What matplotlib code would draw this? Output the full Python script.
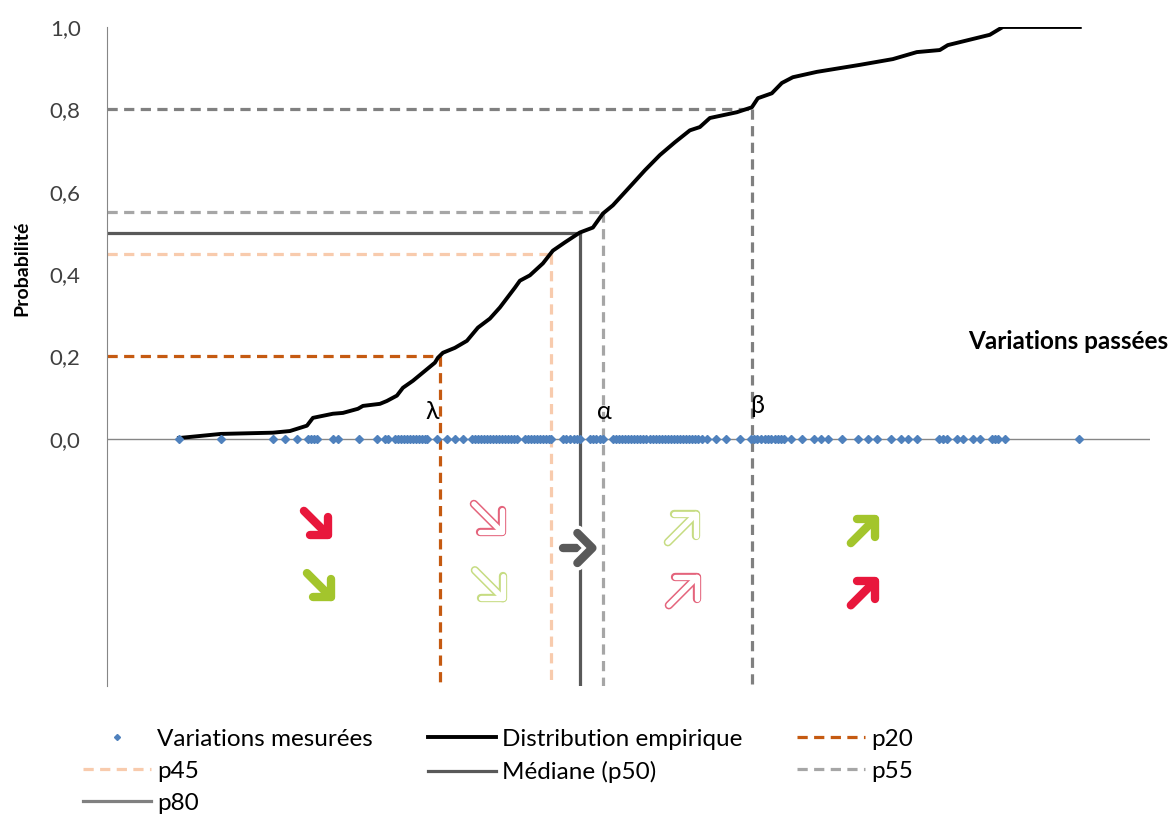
import matplotlib.pyplot as plt
from matplotlib import transforms
from matplotlib.lines import Line2D
import matplotlib.patheffects as pe

plt.rcParams['font.family'] = ['Lato', 'DejaVu Sans']

# variations mesurées (axe horizontal sans graduation, échelle arbitraire)
variations = [7.2, 11.4, 16.6, 17.8, 19.0, 20.1, 20.4, 20.7, 21.0, 22.6, 23.1, 25.2,
              27.0, 27.8, 28.1, 28.8, 29.1, 29.4, 29.7, 30.0, 30.3, 30.6, 30.9, 31.2,
              31.5, 31.8, 32.0, 33.0, 34.0, 34.8, 35.6, 36.5, 36.8, 37.1, 37.4, 37.7,
              38.0, 38.3, 38.6, 38.9, 39.2, 39.5, 39.8, 40.1, 40.4, 40.7, 41.0, 41.8,
              42.1, 42.4, 42.7, 43.0, 43.3, 43.6, 43.9, 44.2, 44.4, 45.6, 45.9, 46.3,
              46.7, 47.0, 47.3, 48.3, 48.6, 48.9, 49.3, 49.6, 50.6, 50.9, 51.2, 51.5,
              51.8, 52.1, 52.4, 52.7, 53.0, 53.3, 53.6, 53.9, 54.3, 54.6, 54.9, 55.2,
              55.5, 55.8, 56.1, 56.4, 56.7, 57.0, 57.3, 57.6, 57.9, 58.2, 58.5, 58.8,
              59.1, 59.5, 60.0, 60.9, 61.9, 63.3, 64.4, 64.7, 65.0, 65.4, 65.8, 66.1,
              66.4, 66.8, 67.1, 67.4, 67.7, 68.4, 69.5, 70.7, 71.4, 72.1, 73.5, 75.1,
              76.1, 77.0, 78.4, 79.4, 80.1, 81.0, 83.2, 83.6, 84.0, 85.0, 85.6, 86.6,
              87.3, 88.5, 88.8, 89.1, 89.8, 97.2]

# distribution empirique
cdf_x = [7.2, 11.4, 16.6, 18.3, 20.0, 20.6, 21.6, 22.6, 23.6, 25.1, 25.6, 27.3, 28.0,
         29.0, 29.6, 30.6, 31.8, 32.8, 33.1, 33.6, 34.8, 36.0, 37.1, 38.3, 39.3, 40.8,
         41.3, 42.3, 43.6, 44.6, 45.8, 47.3, 48.6, 49.6, 50.6, 52.6, 53.8, 55.3, 56.8,
         58.3, 59.3, 60.3, 63.0, 64.5, 65.1, 66.5, 67.5, 68.6, 71.0, 75.3, 78.6, 81.0,
         83.3, 84.1, 88.3, 89.6, 97.3]
cdf_y = [0.002, 0.012, 0.015, 0.019, 0.032, 0.051, 0.056, 0.061, 0.063, 0.073, 0.080,
         0.085, 0.092, 0.105, 0.124, 0.141, 0.165, 0.185, 0.197, 0.209, 0.221, 0.238,
         0.270, 0.292, 0.319, 0.367, 0.384, 0.397, 0.426, 0.457, 0.477, 0.501, 0.513,
         0.547, 0.567, 0.620, 0.652, 0.689, 0.720, 0.749, 0.757, 0.779, 0.793, 0.805,
         0.827, 0.839, 0.864, 0.878, 0.891, 0.908, 0.922, 0.939, 0.944, 0.956, 0.981,
         1.0, 1.0]

# percentiles
pct_names = ['p20', 'p45', 'Médiane (p50)', 'p55', 'p80']
pct_prob = [0.2, 0.45, 0.5, 0.55, 0.8]
pct_x = [33.3, 44.4, 47.3, 49.6, 64.5]
pct_colors = ['#C55A11', '#F8CBAD', '#595959', '#A6A6A6', '#808080']
pct_styles = ['--', '--', '-', '--', '--']

yticks = [0, 0.2, 0.4, 0.6, 0.8, 1.0]
ytick_labels = ['0,0', '0,2', '0,4', '0,6', '0,8', '1,0']

RED = '#E8173C'
GREEN = '#A3C52C'
RED_LIGHT = '#E4647C'
GREEN_LIGHT = '#C6DC82'


def arrow(ax, cx, cy, d, color, hollow=False, s=0.12, h=0.18, lw=6, gap=False):
    # flèche dessinée en pouces autour de (cx, cy) en coordonnées données
    tr = ax.figure.dpi_scale_trans + transforms.ScaledTranslation(cx, cy, ax.transData)
    dx, dy = d
    if dy == 0:
        tip = (s, 0)
        legs = [(s - h, h), (s - h, -h)]
    else:
        tip = (s * dx, s * dy)
        legs = [(s * dx - h * dx, s * dy), (s * dx, s * dy - h * dy)]
    segs = [([-tip[0], tip[0]], [-tip[1], tip[1]]),
            ([legs[0][0], tip[0], legs[1][0]], [legs[0][1], tip[1], legs[1][1]])]
    for xs, ys in segs:
        ln, = ax.plot(xs, ys, color=color, lw=lw, transform=tr, zorder=6,
                      solid_capstyle='round', solid_joinstyle='round', clip_on=False)
        if gap:
            ln.set_path_effects([pe.Stroke(linewidth=lw + 5, foreground='white'), pe.Normal()])
    if hollow:
        for xs, ys in segs:
            ax.plot(xs, ys, color='white', lw=lw - 2.2, transform=tr, zorder=7,
                    solid_capstyle='round', solid_joinstyle='round', clip_on=False)


fig = plt.figure(figsize=(11.73, 8.25), dpi=100)
ax = fig.add_axes([0.0912, 0.1685, 0.889, 0.7988])
ax.set_xlim(0, 104.3)
ax.set_ylim(-0.6, 1.0)

for s in ['top', 'right', 'bottom']:
    ax.spines[s].set_visible(False)
ax.spines['left'].set_color('#868686')
ax.axhline(0, color='#868686', lw=1, zorder=1)
ax.set_xticks([])
ax.set_yticks(yticks)
ax.set_yticklabels(ytick_labels, fontsize=16, color='#404040')
ax.tick_params(axis='y', length=0, pad=19)

handles = {}
for name, p, x, c, st in zip(pct_names, pct_prob, pct_x, pct_colors, pct_styles):
    kw = dict(color=c, lw=2.3, ls=st, zorder=2)
    if st == '--':
        kw['dashes'] = (3.2, 2.0)
    ln, = ax.plot([0, x], [p, p], **kw)
    ax.plot([x, x], [p, -0.6], **kw)
    handles[name] = ln

cdf_line, = ax.plot(cdf_x, cdf_y, color='black', lw=2.8, zorder=4,
                    solid_joinstyle='round')
pts, = ax.plot(variations, [0] * len(variations), ls='none', marker='D', ms=3.8,
               color='#4F81BD', zorder=5)

# lettres grecques
ax.text(32.5, 0.066, 'λ', fontsize=18, ha='center', va='center')
ax.text(49.7, 0.066, 'α', fontsize=18, ha='center', va='center')
ax.text(65.0, 0.08, 'β', fontsize=18, ha='center', va='center')

ax.text(96.1, 0.236, 'Variations passées', fontsize=17.5, fontweight='bold',
        ha='center', va='center', clip_on=False)
ax.text(-0.082, 0.634, 'Probabilité', fontsize=14, fontweight='bold', rotation=90,
        ha='center', va='center', transform=ax.transAxes)

# flèches
arrow(ax, 20.9, -0.204, (1, -1), RED)
arrow(ax, 21.2, -0.355, (1, -1), GREEN)
arrow(ax, 38.1, -0.192, (1, -1), RED_LIGHT, hollow=True, s=0.14, h=0.22)
arrow(ax, 38.2, -0.353, (1, -1), GREEN_LIGHT, hollow=True, s=0.14, h=0.22)
arrow(ax, 47.1, -0.265, (1, 0), '#595959', s=0.145, h=0.15, gap=True)
arrow(ax, 57.5, -0.217, (1, 1), GREEN_LIGHT, hollow=True, s=0.14, h=0.22)
arrow(ax, 57.6, -0.370, (1, 1), RED_LIGHT, hollow=True, s=0.14, h=0.22)
arrow(ax, 75.6, -0.224, (1, 1), GREEN)
arrow(ax, 75.6, -0.375, (1, 1), RED)

p80_proxy = Line2D([], [], color='#808080', lw=2.3)
leg_h = [pts, handles['p45'], p80_proxy, cdf_line, handles['Médiane (p50)'],
         handles['p20'], handles['p55']]
leg_l = ['Variations mesurées', 'p45', 'p80', 'Distribution empirique',
         'Médiane (p50)', 'p20', 'p55']
fig.legend(leg_h, leg_l, loc='upper left', bbox_to_anchor=(0.0708, 0.1164), ncol=3,
           frameon=False, fontsize=17.5, handlelength=2.8, handletextpad=0.25,
           columnspacing=2.25, labelspacing=0.45, borderpad=0, borderaxespad=0,
           numpoints=1, markerscale=0.8)

plt.savefig('out.png', dpi=100)
